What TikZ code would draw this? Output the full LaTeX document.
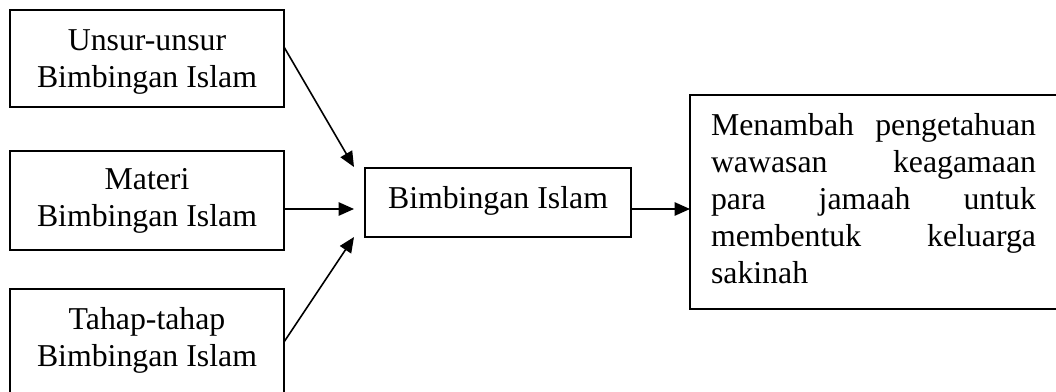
\documentclass[tikz,border=0pt]{standalone}
\usepackage{fontspec}
\setmainfont{Liberation Serif}
\usetikzlibrary{arrows.meta,calc}
\tikzset{
  box/.style={draw=black, line width=1.3pt, inner sep=0pt, outer sep=0pt, rectangle},
  txt/.style={inner sep=0pt, outer sep=0pt, align=center, anchor=base},
  arr/.style={line width=1.2pt, -{Triangle[length=11.5pt,width=10pt]}},
}
\begin{document}
\begin{tikzpicture}[x=0.75pt,y=-0.75pt,font=\fontsize{23.85}{27.75}\selectfont]
\useasboundingbox (0,0) rectangle (1056,392);
\clip (0,0) rectangle (1056,392);
% left boxes (text anchored at the baseline of its last line)
\node[box, minimum width=205.5pt, minimum height=72.75pt] (b1) at (147,58.5) {};
\node[txt] (t1) at (147,88) {Unsur-unsur\\Bimbingan Islam};
\node[box, minimum width=205.5pt, minimum height=74.25pt] (b2) at (147,200.5) {};
\node[txt] (t2) at (147,226) {Materi\\Bimbingan Islam};
\node[box, minimum width=205.5pt, minimum height=83.25pt] (b3) at (147,344.5) {};
\node[txt] (t3) at (147,366) {Tahap-tahap\\Bimbingan Islam};
% centre box
\node[box, minimum width=199.5pt, minimum height=51.75pt] (c) at (498,202.5) {};
\node[txt] (tc) at (498,208) {Bimbingan Islam};
% right box
\node[box, minimum width=279pt, minimum height=160.5pt] (r) at (876,202) {};
\node[inner sep=0pt, outer sep=0pt, anchor=base west, text width=243.75pt, align=left] (tr) at (711,136)
  {Menambah\hfill pengetahuan\\wawasan\hfill keagamaan\\para\hfill jamaah\hfill untuk\\membentuk\hfill keluarga\\sakinah};
% arrow ends
\coordinate (e1) at (354,167);
\coordinate (e2) at (354,209);
\coordinate (e3) at (354,237);
\draw[arr] ($(b1.east)+(0,-11.5)$) -- (e1);
\draw[arr] ($(b2.east)+(0,8.5)$) -- (e2);
\draw[arr] ($(b3.east)+(0,-2.5)$) -- (e3);
\draw[arr] ($(c.east)+(0,6.5)$) -- ($(r.west)+(0,7)$);
\end{tikzpicture}
\end{document}
